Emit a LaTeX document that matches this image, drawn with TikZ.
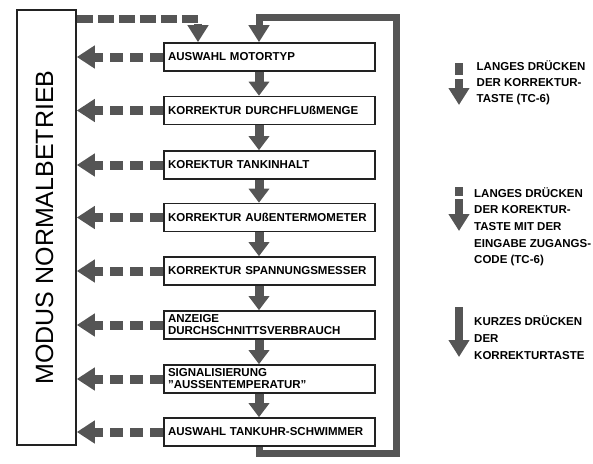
\documentclass[tikz,border=0pt]{standalone}
\usepackage{fontspec}
\setmainfont{Liberation Sans}
\usetikzlibrary{arrows.meta}
\definecolor{arr}{HTML}{555555}
\definecolor{ink}{HTML}{222222}
\begin{document}
\begin{tikzpicture}[x=1pt,y=-1pt,
  box/.style={draw=ink, line width=1.6pt, fill=white, minimum height=28pt,
    text width=203pt, inner xsep=4pt, inner ysep=0pt, align=left,
    font=\fontsize{11.5}{12}\selectfont\bfseries},
  leg/.style={anchor=base west, inner sep=0pt,
    font=\fontsize{11.5}{12}\selectfont\bfseries},
  dasharrow/.style={draw=arr, line width=9pt, dash pattern=on 13pt off 7pt,
    -{Triangle[length=18pt,width=22pt]}},
  topdash/.style={draw=arr, line width=8pt, dash pattern=on 16pt off 5pt,
    line join=miter, -{Triangle[length=17pt,width=20pt]}},
  downarrow/.style={draw=arr, line width=9pt, -{Triangle[length=14pt,width=20pt]}},
  loopline/.style={draw=arr, line width=7pt, line join=miter,
    -{Triangle[length=17pt,width=20pt]}},
  legarrow/.style={draw=arr, line width=8pt, -{Triangle[length=17pt,width=20pt]}}
]
\useasboundingbox (0,0) rectangle (593,463);

% left mode box
\node[draw=ink, line width=1.6pt, minimum width=59pt, minimum height=435pt, inner sep=0pt]
  (mode) at (46.5,227.5) {};
\node[rotate=90, inner sep=0pt, font=\fontsize{25}{25}\selectfont] (modelbl) at (44.5,227.5)
  {MODUS NORMALBETRIEB};

% flow boxes
\node[box] (b1) at (269.5,57)  {AUSWAHL MOTORTYP};
\node[box] (b2) at (269.5,110.5) {KORREKTUR DURCHFLUßMENGE};
\node[box] (b3) at (269.5,165) {KOREKTUR TANKINHALT};
\node[box] (b4) at (269.5,217.5) {KORREKTUR AUßENTERMOMETER};
\node[box] (b5) at (269.5,271) {KORREKTUR SPANNUNGSMESSER};
\node[box] (b6) at (269.5,325) {ANZEIGE\\DURCHSCHNITTSVERBRAUCH};
\node[box] (b7) at (269.5,379) {SIGNALISIERUNG\\\char34 AUSSENTEMPERATUR\char34};
\node[box] (b8) at (269.5,432) {AUSWAHL TANKUHR-SCHWIMMER};

\coordinate (ax) at (259,0);
\coordinate (t1) at (198,19);
\coordinate (lb) at (396,453);
\coordinate (lt) at (396,17);

% down arrows between boxes
\foreach \a/\b in {b1/b2,b2/b3,b3/b4,b4/b5,b5/b6,b6/b7,b7/b8}
  \draw[downarrow] (\a.south -| ax) -- (\b.north -| ax);

% dashed arrows back to mode box
\foreach \a in {b1,b2,b3,b4,b5,b6,b7,b8}
  \draw[dasharrow] (\a.west) -- (mode.east |- \a.west);

% top dashed entry
\draw[topdash] (mode.east |- t1) -- (t1) -- (b1.north -| t1);

% solid loop
\draw[loopline] (b8.south -| ax) |- (lb) -- (lt) -| (b1.north -| ax);

% legend 1
\fill[arr] (455,63) rectangle (463,75);
\coordinate (l1a) at (459,79);
\coordinate (l1b) at (459,105);
\draw[legarrow] (l1a) -- (l1b);
\node[leg] (l1t1) at (476.5,70.5) {LANGES DRÜCKEN};
\node[leg] (l1t2) at (476.5,86.5) {DER KORREKTUR-};
\node[leg] (l1t3) at (476.5,102.5) {TASTE (TC-6)};

% legend 2
\fill[arr] (455,187) rectangle (463,196);
\coordinate (l2a) at (459,199);
\coordinate (l2b) at (459,231);
\draw[legarrow] (l2a) -- (l2b);
\node[leg] (l2t1) at (474,197) {LANGES DRÜCKEN};
\node[leg] (l2t2) at (474,213) {DER KOREKTUR-};
\node[leg] (l2t3) at (474,230) {TASTE MIT DER};
\node[leg] (l2t4) at (474,247) {EINGABE ZUGANGS-};
\node[leg] (l2t5) at (474,263) {CODE (TC-6)};

% legend 3
\coordinate (l3a) at (459,307);
\coordinate (l3b) at (459,357);
\draw[legarrow] (l3a) -- (l3b);
\node[leg] (l3t1) at (474,325) {KURZES DRÜCKEN};
\node[leg] (l3t2) at (474,342) {DER};
\node[leg] (l3t3) at (474,359) {KORREKTURTASTE};
\end{tikzpicture}
\end{document}
